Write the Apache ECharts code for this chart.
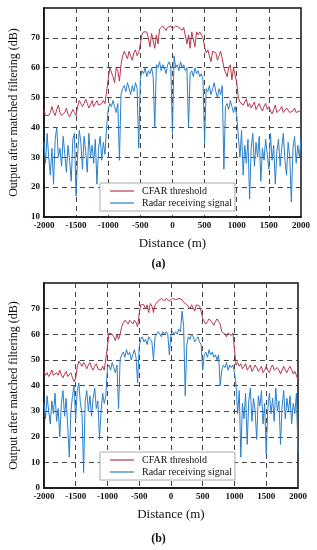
<!DOCTYPE html>
<html>
<head>
<meta charset="utf-8">
<script src="https://cdn.jsdelivr.net/npm/echarts@6/dist/echarts.min.js"></script>
<style>
html,body{margin:0;padding:0;background:#fff;}
#c{width:317px;height:550px;}
</style>
</head>
<body>
<div id="c"></div>
<script>
// Distance axis: -2000 .. 2000 m, step 25 m (161 samples)
var xStart = -2000, xStep = 25;
var xTicks = [-2000,-1500,-1000,-500,0,500,1000,1500,2000];

// ---- Panel (a) ----
var cfarA = [].concat(
  [46,44,43.5,44,45,47,45,44,46,47.5,45,44,43.5,45,46.5,44.5,43.5,44,46,45,44],
  [47,49,48,47,48,49.5,48,46.5,47.5,49,47,48,49,47.5,47,48,49,48,47.5],
  [56],
  [60,60.5,57,55,60,59,55.5],
  [61],
  [64,65.5,66,63,65.5,66,62.5,65,66,64,65],
  [68],
  [71,72,71.5,72,70,67,71.5,72,66.5,71,68],
  [73,73.5,74,73.5,72.5,73.5,74,74,73,73.5,74,74,73.5,73,72.5,73.5,74],
  [68,71,66.5,72,71.5,67,72,71,72,71.5,70],
  [67],
  [65,66,64,62,65.5,66,65,62.5,64,65.5,63],
  [60],
  [60.5,57,60,61,56,60,60.5],
  [55],
  [50,48.5,49,47.5,48,49.5,47,48,46.5,47,48.5,46,47,48,46.5,45.5,47,48,46,47,45.5,44.5,46,47.5,45,44.5,46,47,45,44.5,46.5,47,45,44.5,45.5,46.5,45,44.5,45.5,46]
);
var sigA = [].concat(
  [35,28,38,30,24,33,21,36,40,30,33,27,37,31,25,34,29,22,36,38,17,31,39,35,26,37,32,25,38,30,34,28,36,21,33,37,29,35,31,40],
  [46],
  [48,47,49,47,45,48],
  [29],
  [51],
  [53,54,52,55,53,51,54,52,55,53],
  [33],
  [56],
  [59,58,60,57,59,58,60,57],
  [40],
  [61,60,62,59,61,60,58,61,62,60],
  [38],
  [64],
  [60,61,59,62,60,61,59,60],
  [40],
  [58,59,57,60,58,59,57,58,56],
  [35],
  [53,52,54,51,53,55,52,50,53,51,54],
  [26],
  [47,48,46,49,47,45,47],
  [44],
  [37,30,39,24,34,28,36,16,33,38,27,35,30,37,22,33,29,36,31,26,38,29,34,21,32,36,27,33,38,29,24,35,30,15,33,37,28,34,30,36]
);

// ---- Panel (b) ----
var cfarB = [].concat(
  [45.5,44,45,43.5,44.5,46,44,43.5,45,44,46,44,43,44.5,45.5,43.5,44,45,43,41.5,43],
  [47,49.5,48.5,47.5,49,48,46.5,48,49,47,46,47.5,48.5,46.5,47,46,47.5,46,45.5],
  [55],
  [60.5,61,60,59,57.5,60,58],
  [60],
  [63,64.5,65.5,65,64,65.5,65,64,65.5,64.5,63],
  [68],
  [71.5,72,71.5,70,71.5,68.5,72,71,68.5,71.5,72],
  [73,73.5,74,73.5,73,74,73.5,73,73.5,74,74,73.5,73,74,74,73.5,72.5],
  [72,71.5,72,70,71.5,72,69,71.5,72,71,69],
  [66],
  [65.5,64,65,66,65.5,64.5,63.5,65,66,65,64],
  [61],
  [61.5,60,59,60.5,61,59.5,60.5],
  [54],
  [48,49,47.5,48.5,46.5,47.5,48.5,46,47,48,45.5,46.5,48,47,45.5,46.5,47.5,45,46,47.5,46,45,47,48,46,45.5,47,46,44.5,46,47.5,46,45,46.5,47.5,46,44.5,45.5,44,42]
);
var sigB = [].concat(
  [33,27,36,30,25,34,29,37,26,31,20,33,38,28,35,24,12,30,36,40,27,38,41,33,29,6,34,38,30,36,28,35,39,31,34,19,30,37,33,36],
  [47],
  [48,46,49,47,45,48],
  [31],
  [50],
  [52,53,51,54,52,53,50,52,54,51],
  [41],
  [55],
  [58,59,57,58,56,59,58,57],
  [50],
  [59,60,61,60,59,61,60,61,60,52],
  [60],
  [61,60,61,60,62,61],
  [69],
  [63],
  [36],
  [56],
  [59,58,60,59,57,58,59,57,56],
  [46],
  [52,53,51,54,52,53,51,52,50,52],
  [40],
  [46],
  [48,47,49,46,48,47,48],
  [45],
  [40,29,38,12,33,27,37,17,34,39,26,35,30,19,36,32,38,25,33,13,31,37,29,35,26,39,30,34,17,32,38,27,35,30,36,25,33,29,37,14]
);

var legendNames = ['CFAR threshold', 'Radar receiving signal'];
var redColor = '#b3364f', blueColor = '#2a7fc8';

function pairs(arr){
  var out = [];
  for (var i = 0; i < arr.length; i++) out.push([xStart + i * xStep, arr[i]]);
  return out;
}

var serif = '"Liberation Serif", "DejaVu Serif", serif';

function xAxisCfg(gi){
  return {
    type:'value', gridIndex: gi, min:-2000, max:2000, interval:500,
    name:'Distance (m)', nameLocation:'middle', nameGap:20,
    nameTextStyle:{fontFamily:serif, fontSize:13, color:'#111'},
    axisLine:{show:true, onZero:false, lineStyle:{color:'#111', width:1.5}},
    axisTick:{show:false},
    axisLabel:{fontFamily:serif, fontWeight:'bold', fontSize:9, color:'#111', margin:4,
      formatter:function(v){ return String(v); }},
    splitLine:{show:true, showMinLine:false, showMaxLine:false, lineStyle:{color:'#444', type:[5,4], width:1}}
  };
}
function yAxisCfg(gi, mn){
  return {
    type:'value', gridIndex: gi, min:mn, max:80, interval:10,
    name:'Output after matched filtering (dB)', nameLocation:'middle', nameGap:19,
    nameTextStyle:{fontFamily:serif, fontSize:12, color:'#111'},
    axisLine:{show:true, onZero:false, lineStyle:{color:'#111', width:1.5}},
    axisTick:{show:false},
    axisLabel:{fontFamily:serif, fontWeight:'bold', fontSize:9, color:'#111', margin:4,
      formatter:function(v){ return v === 80 ? '' : String(v); }},
    splitLine:{show:true, showMinLine:false, showMaxLine:false, lineStyle:{color:'#444', type:[5,4], width:1}}
  };
}
function lineSeries(name, arr, color, xi){
  return {
    name:name, type:'line', xAxisIndex:xi, yAxisIndex:xi, data:pairs(arr),
    symbol:'none', showSymbol:false, smooth:false,
    lineStyle:{color:color, width:1}, itemStyle:{color:color}, z:3
  };
}
function legendCfg(top){
  return {data:legendNames, orient:'vertical', left:100, top:top,
    icon:'rect', itemWidth:24, itemHeight:1.2, itemGap:2,
    padding:[3,3,3,10], backgroundColor:'#fff', borderColor:'#aaa', borderWidth:1,
    textStyle:{fontFamily:serif, fontSize:10, color:'#111', padding:[0,0,0,3]}};
}

var chart = echarts.init(document.getElementById('c'), null, {renderer:'canvas'});
chart.setOption({
  animation:false,
  backgroundColor:'#fff',
  grid:[
    {left:35, top:8, width:266, height:209, show:true, borderColor:'#111', borderWidth:1.5, backgroundColor:'transparent'},
    {left:35, top:283, width:263, height:205, show:true, borderColor:'#111', borderWidth:1.5, backgroundColor:'transparent'}
  ],
  xAxis:[xAxisCfg(0), xAxisCfg(1)],
  yAxis:[yAxisCfg(0,10), yAxisCfg(1,0)],
  legend:[legendCfg(183), legendCfg(452)],
  graphic:[
    {type:'text', left:'center', top:258, style:{text:'(a)', font:'bold 12px ' + serif, fill:'#111'}},
    {type:'text', left:'center', top:533, style:{text:'(b)', font:'bold 12px ' + serif, fill:'#111'}}
  ],
  series:[
    lineSeries(legendNames[0], cfarA, redColor, 0),
    lineSeries(legendNames[1], sigA, blueColor, 0),
    lineSeries(legendNames[0], cfarB, redColor, 1),
    lineSeries(legendNames[1], sigB, blueColor, 1)
  ]
});
</script>
</body>
</html>
